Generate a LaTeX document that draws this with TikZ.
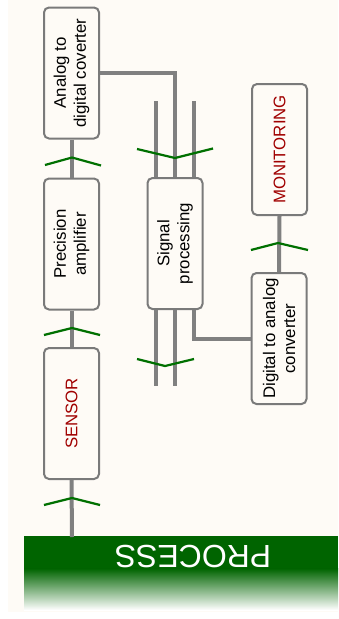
\documentclass[tikz,border=0pt]{standalone}
\usepackage{fontspec}
\setmainfont{Liberation Sans}
\usetikzlibrary{calc}
\definecolor{bgcream}{HTML}{FEFBF6}
\definecolor{pgreen}{HTML}{006400}
\definecolor{chevgreen}{HTML}{007000}
\definecolor{conngray}{HTML}{808080}
\definecolor{boxgray}{HTML}{7A7A7A}
\definecolor{labred}{HTML}{A00000}
\tikzset{
  blockbox/.style={draw=boxgray, line width=2pt, rounded corners=5pt, fill=bgcream,
    rotate=90, minimum width=131pt, minimum height=55pt, inner sep=0pt,
    align=center, font=\fontsize{16.8}{20}\selectfont},
  redlabel/.style={text=labred},
  conn/.style={draw=conngray, line width=4pt},
  chev/.style={draw=chevgreen, line width=2.2pt},
}
\begin{document}
\begin{tikzpicture}[x=1pt,y=-1pt]
\useasboundingbox (0,0) rectangle (338,619);
\fill[bgcream] (8,0) rectangle (338,612);
% process bar
\fill[pgreen] (24,536) rectangle (338,569);
\shade[top color=pgreen,bottom color=white] (24,568.5) rectangle (338,610);
\node[text=white, rotate=180, font=\fontsize{32}{32}\selectfont, inner sep=0pt] (process) at (193,557) {PROCESS};
\coordinate (proctop) at (72,537);
% free ends of the signal lines
\coordinate (sptl) at (156,101);
\coordinate (sptr) at (194,101);
\coordinate (spbl) at (156,386);
\coordinate (spbm) at (175,386);
% boxes
\node[blockbox] (adc) at (71.5,73) {Analog to\\digital coverter};
\node[blockbox] (pa) at (71.5,244) {Precision\\amplifier};
\node[blockbox, redlabel] (sensor) at (71.5,413.5) {SENSOR};
\node[blockbox] (sp) at (175,243.5) {Signal\\processing};
\node[blockbox] (dac) at (279,338.5) {Digital to analog\\converter};
\node[blockbox, redlabel] (mon) at (279.5,149.5) {MONITORING};
% connectors
\draw[conn] (adc.west) -- (pa.east);
\draw[conn] (pa.west) -- (sensor.east);
\draw[conn] (sensor.west) -- (proctop);
\draw[conn] (adc.south) -| (sp.east);
\draw[conn] (sptl) -- (sptl |- sp.east);
\draw[conn] (sptr) -- (sptr |- sp.east);
\draw[conn] (spbl |- sp.west) -- (spbl);
\draw[conn] (spbm |- sp.west) -- (spbm);
\draw[conn] ($(sp.west)+(19,0)$) |- (dac.north);
\draw[conn] (mon.west) -- (dac.east);
% chevrons
\draw[chev] (45,165) -- (72,157.5) -- (101,165.5);
\draw[chev] (44,335) -- (72,328) -- (100,335);
\draw[chev] (44,505) -- (72,498) -- (100,505);
\draw[chev] (137,149) -- (175,158) -- (213,148.5);
\draw[chev] (137,359) -- (165,366) -- (194,359);
\draw[chev] (251,250) -- (278,243) -- (308,250);
\end{tikzpicture}
\end{document}
